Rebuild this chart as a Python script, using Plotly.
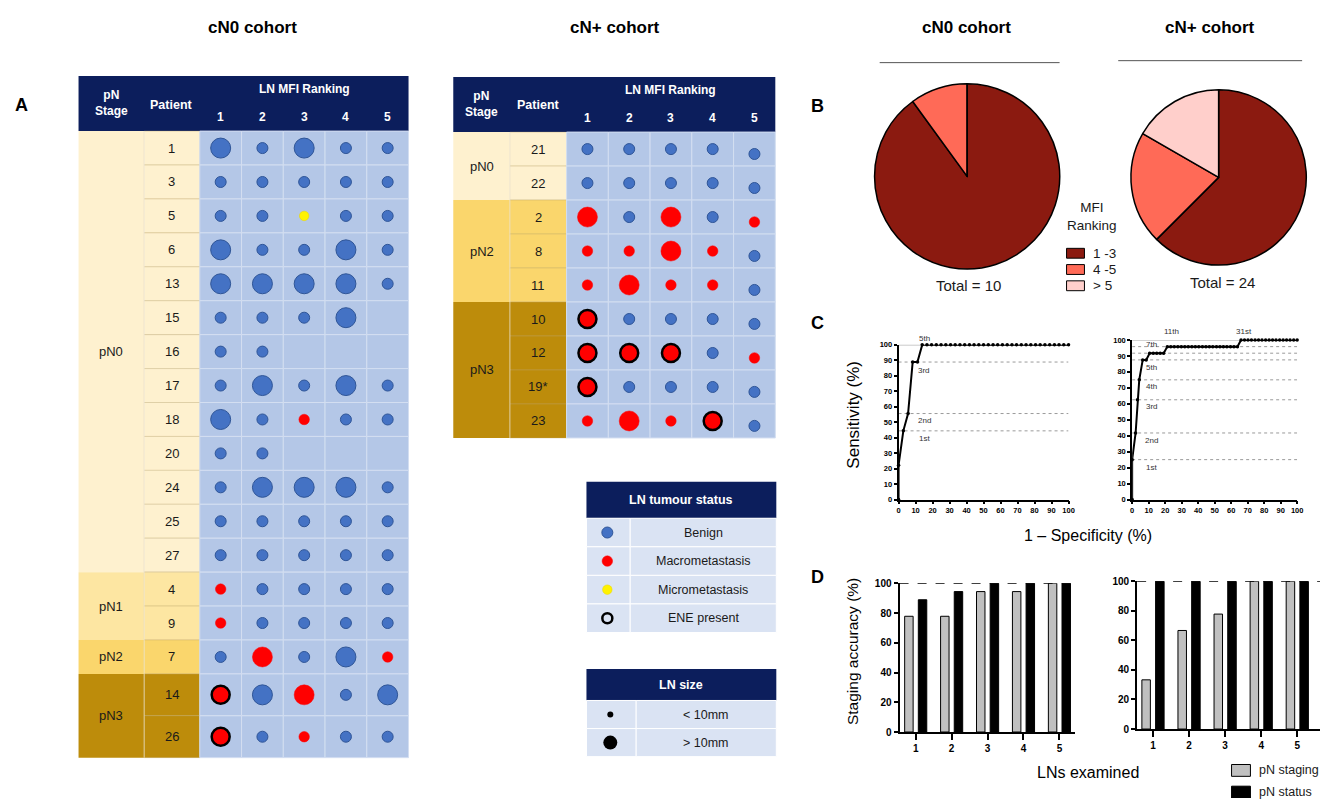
import plotly.graph_objects as go

W, H = 1328, 804
FONT = "Liberation Sans, Arial, sans-serif"

# ------------------------------------------------------------------ data
MFI_RANKS = ["1", "2", "3", "4", "5"]

# Node codes per LN MFI rank: b/B benign (<10mm / >10mm), m/M macrometastasis,
# y micrometastasis, E macrometastasis with ENE (large), "-" no node
cn0_stage_groups = [("pN0", 13), ("pN1", 2), ("pN2", 1), ("pN3", 2)]
cn0_patients = ["1", "3", "5", "6", "13", "15", "16", "17", "18", "20",
                "24", "25", "27", "4", "9", "7", "14", "26"]
cn0_nodes = [
    "B b B b b",
    "b b b b b",
    "b b y b b",
    "B b b B b",
    "B B B B b",
    "b b b B -",
    "b b - - -",
    "b B b B b",
    "B b m b b",
    "b b - - -",
    "b B B B b",
    "b b b b b",
    "b b b b b",
    "m b b b b",
    "m b b b b",
    "b M b B m",
    "E B M b B",
    "E b m b b",
]

cnp_stage_groups = [("pN0", 2), ("pN2", 3), ("pN3", 4)]
cnp_patients = ["21", "22", "2", "8", "11", "10", "12", "19*", "23"]
cnp_nodes = [
    "b b b b b",
    "b b b b b",
    "M b M b m",
    "m m M m b",
    "m M m m b",
    "E b b b b",
    "E E E b m",
    "E b b b b",
    "m M m E b",
]

status_legend = [("b", "Benign"), ("m", "Macrometastasis"),
                 ("y", "Micrometastasis"), ("ring", "ENE present")]
size_legend = [("small", "< 10mm"), ("large", "> 10mm")]

# Pie: position of the positive node within the MFI ranking
mfi_groups = ["1 -3", "4 -5", "> 5"]
cn0_mfi_counts = [9, 1, 0]
cnp_mfi_counts = [15, 5, 4]

# ROC curves (1 - specificity, sensitivity)
cn0_roc_fpr = [0, 0, 2.8, 5.6, 8.3, 11.1, 13.9, 16.7, 19.4, 22.2, 25.0, 27.8,
               30.6, 33.3, 36.1, 38.9, 41.7, 44.4, 47.2, 50.0, 52.8, 55.6,
               58.3, 61.1, 63.9, 66.7, 69.4, 72.2, 75.0, 77.8, 80.6, 83.3,
               86.1, 88.9, 91.7, 94.4, 97.2, 100]
cn0_roc_tpr = [0, 22.2, 44.4, 55.6, 88.9, 88.9, 100, 100, 100, 100, 100, 100,
               100, 100, 100, 100, 100, 100, 100, 100, 100, 100,
               100, 100, 100, 100, 100, 100, 100, 100, 100, 100,
               100, 100, 100, 100, 100, 100]
cn0_roc_levels = [44.4, 55.6, 88.9, 100]
cn0_roc_labels = [("1st", 15, 39.5), ("2nd", 15, 51), ("3rd", 15, 83.5),
                  ("5th", 15, 104)]

cnp_roc_fpr = [0, 0, 2.1, 3.2, 4.3, 6.4, 8.5, 10.6, 12.8, 14.9, 17.0, 19.1,
               21.3, 23.4, 25.5, 27.7, 29.8, 31.9, 34.0, 36.2, 38.3, 40.4,
               42.6, 44.7, 46.8, 48.9, 51.1, 53.2, 55.3, 57.4, 59.6, 61.7,
               63.8, 66.0, 68.1, 70.2, 72.3, 74.5, 76.6, 78.7, 80.9, 83.0,
               85.1, 87.2, 89.4, 91.5, 93.6, 95.7, 97.9, 100]
cnp_roc_tpr = [0, 25, 41.7, 62.5, 75, 87.5, 87.5, 91.7, 91.7, 91.7, 91.7, 91.7,
               95.8, 95.8, 95.8, 95.8, 95.8, 95.8, 95.8, 95.8, 95.8, 95.8,
               95.8, 95.8, 95.8, 95.8, 95.8, 95.8, 95.8, 95.8, 95.8, 95.8,
               95.8, 100, 100, 100, 100, 100, 100, 100, 100, 100,
               100, 100, 100, 100, 100, 100, 100, 100]
cnp_roc_levels = [25, 41.7, 62.5, 75, 87.5, 91.7, 95.8, 100]
cnp_roc_labels = [("1st", 12, 20), ("2nd", 12, 37), ("3rd", 12, 58),
                  ("4th", 12, 71), ("5th", 12, 83), ("7th", 12, 97),
                  ("11th", 24, 105), ("31st", 68, 105)]

# Staging accuracy vs number of LNs examined
lns_examined = ["1", "2", "3", "4", "5"]
cn0_pn_staging = [77.8, 77.8, 94.4, 94.4, 100]
cn0_pn_status = [88.9, 94.4, 100, 100, 100]
cnp_pn_staging = [33.3, 66.7, 77.8, 100, 100]
cnp_pn_status = [100, 100, 100, 100, 100]

# ------------------------------------------------------------------ styles
NAVY = "#0C1E5C"
CELL = "#B4C7E7"
CELL_LINE = "#D3DEF1"
LEG_CELL = "#DAE3F3"
BLUE = "#4472C4"
BLUE_EDGE = "#2F5597"
RED = "#FF0000"
YELLOW = "#FFF200"
STAGE_COLOR = {"pN0": "#FEF1CF", "pN1": "#FDE6A2", "pN2": "#FAD66C", "pN3": "#BD8C0B"}
PIE_COLORS = ["#8B1A10", "#FF6A57", "#FFCFCB"]

NODE_STYLE = {
    "b": dict(size=11, color=BLUE, lc=BLUE_EDGE, lw=1),
    "B": dict(size=20, color=BLUE, lc=BLUE_EDGE, lw=1),
    "m": dict(size=10.5, color=RED, lc=RED, lw=0.5),
    "M": dict(size=20, color=RED, lc=RED, lw=0.5),
    "y": dict(size=9.5, color=YELLOW, lc="#E8D400", lw=0.5),
    "E": dict(size=18, color=RED, lc="black", lw=2.5),
    "ring": dict(size=10, color="rgba(0,0,0,0)", lc="black", lw=2.5),
    "small": dict(size=6, color="black", lc="black", lw=0),
    "large": dict(size=14, color="black", lc="black", lw=0),
}

fig = go.Figure()
shapes = []
annotations = []


def rect(x0, y0, x1, y1, fill, line_color=None, line_width=0):
    shapes.append(dict(type="rect", xref="x", yref="y", x0=x0, y0=y0, x1=x1, y1=y1,
                       fillcolor=fill, layer="below",
                       line=dict(color=line_color or fill, width=line_width)))


def text(x, y, s, size=12, color="#1A1A1A", bold=False, xref="x", yref="y",
         xanchor="center", angle=0):
    annotations.append(dict(x=x, y=y, xref=xref, yref=yref, text=s, showarrow=False,
                            xanchor=xanchor, yanchor="middle", textangle=angle,
                            font=dict(family=FONT, size=size, color=color,
                                      weight="bold" if bold else "normal")))


def add_markers(points, axis=("x", "y")):
    xs, ys, sz, col, lc, lw = [], [], [], [], [], []
    for x, y, code in points:
        st = NODE_STYLE[code]
        xs.append(x)
        ys.append(y)
        sz.append(st["size"])
        col.append(st["color"])
        lc.append(st["lc"])
        lw.append(st["lw"])
    fig.add_trace(go.Scatter(x=xs, y=ys, mode="markers", xaxis=axis[0], yaxis=axis[1],
                             marker=dict(size=sz, color=col, opacity=1,
                                         line=dict(color=lc, width=lw)),
                             hoverinfo="skip", showlegend=False, cliponaxis=False))


def draw_table(x0, y0, head_h, stage_w, pat_w, col_w, row_h, groups, patients, nodes,
               col_dy):
    xs = x0 + stage_w
    xm = xs + pat_w
    x1 = xm + len(MFI_RANKS) * col_w
    yb = y0 + head_h
    rect(x0, y0, x1, yb, NAVY)
    text((x0 + xs) / 2, y0 + head_h / 2 - 1, "pN<br>Stage", bold=True, color="white")
    text((xs + xm) / 2, y0 + head_h / 2 + 1, "Patient", size=12.5, bold=True, color="white")
    text((xm + x1) / 2, y0 + 13, "LN MFI Ranking", bold=True, color="white")
    for c, lab in enumerate(MFI_RANKS):
        text(xm + (c + 0.5) * col_w, y0 + 42, lab, bold=True, color="white")

    tops = [yb]
    for h in row_h:
        tops.append(tops[-1] + h)

    r = 0
    for stage, n in groups:
        rect(x0, tops[r], xs, tops[r + n], STAGE_COLOR[stage])
        text((x0 + xs) / 2, (tops[r] + tops[r + n]) / 2, stage, size=13)
        for k in range(n):
            rect(xs, tops[r + k], xm, tops[r + k + 1], STAGE_COLOR[stage],
                 line_color="rgba(190,165,110,0.35)", line_width=1)
            text((xs + xm) / 2, (tops[r + k] + tops[r + k + 1]) / 2, patients[r + k], size=13)
        r += n
    shapes.append(dict(type="line", xref="x", yref="y", x0=xs, x1=xs, y0=yb, y1=tops[-1],
                       line=dict(color="rgba(255,255,255,0.5)", width=1), layer="below"))

    for i in range(len(patients)):
        for c in range(len(MFI_RANKS)):
            rect(xm + c * col_w, tops[i], xm + (c + 1) * col_w, tops[i + 1], CELL,
                 line_color=CELL_LINE, line_width=1)

    pts = []
    for i, row in enumerate(nodes):
        for c, code in enumerate(row.split()):
            if code == "-":
                continue
            pts.append((xm + (c + 0.5) * col_w, (tops[i] + tops[i + 1]) / 2 + col_dy[c], code))
    add_markers(pts)


# cN0 table
draw_table(77, 71, 56, 66, 56, 42, [34.44] * 16 + [42.5] * 2,
           cn0_stage_groups, cn0_patients, cn0_nodes, [0, 0, 0, 0, 0])
# cN+ table
draw_table(454, 72, 56, 57, 57, 42, [34.5] * 9,
           cnp_stage_groups, cnp_patients, cnp_nodes, [0, 0, 0, 0, 5])


def draw_legend_table(x0, x1, xsplit, y0, head_h, row_h, title, rows):
    rect(x0, y0, x1, y0 + head_h, NAVY)
    text((x0 + x1) / 2, y0 + head_h / 2, title, size=12.5, bold=True, color="white")
    pts = []
    for i, (code, lab) in enumerate(rows):
        ya = y0 + head_h + i * row_h
        rect(x0, ya, xsplit, ya + row_h, LEG_CELL, line_color="white", line_width=1)
        rect(xsplit, ya, x1, ya + row_h, LEG_CELL, line_color="white", line_width=1)
        text((xsplit + x1) / 2, ya + row_h / 2, lab, size=12.5)
        pts.append(((x0 + xsplit) / 2 - 1, ya + row_h / 2, code))
    add_markers(pts)


draw_legend_table(588, 779, 632, 483, 37, 29, "LN tumour status", status_legend)
draw_legend_table(588, 779, 638, 673, 32, 28.5, "LN size", size_legend)

# ------------------------------------------------------------------ headings
text(252, 22, "cN0 cohort", size=17, bold=True, color="black")
text(617, 22, "cN+ cohort", size=17, bold=True, color="black")
text(970, 22, "cN0 cohort", size=17, bold=True, color="black")
text(1215, 22, "cN+ cohort", size=17, bold=True, color="black")
for xa, xb, yl in [(883, 1064, 57.5), (1123, 1308, 55.5)]:
    shapes.append(dict(type="line", xref="x", yref="y", x0=xa, x1=xb, y0=yl, y1=yl,
                       line=dict(color="#555555", width=1)))
for lab, x, y in [("A", 20, 100), ("B", 820, 102), ("C", 820, 322), ("D", 820, 580)]:
    text(x, y, lab, size=18, bold=True, color="black")

# ------------------------------------------------------------------ pies
for counts, (xa, xb, ya, yb) in [(cn0_mfi_counts, (877, 1065, 79, 267)),
                                 (cnp_mfi_counts, (1135, 1313, 85, 263))]:
    fig.add_trace(go.Pie(values=counts, labels=mfi_groups, sort=False,
                         direction="clockwise", rotation=0, textinfo="none",
                         marker=dict(colors=PIE_COLORS, line=dict(color="black", width=1.5)),
                         domain=dict(x=[xa / W, xb / W], y=[1 - yb / H, 1 - ya / H]),
                         showlegend=False, hoverinfo="skip"))
text(972, 284, "Total = 10", size=15)
text(1228, 281, "Total = 24", size=15)
text(1097, 214, "MFI<br>Ranking", size=13.5)
for i, (lab, col) in enumerate(zip(mfi_groups, PIE_COLORS)):
    yc = 251 + i * 16.5
    rect(1071, yc - 5, 1089, yc + 5, col, line_color="black", line_width=1)
    text(1096, yc, lab, size=13.5, xanchor="left")


# ------------------------------------------------------------------ ROC curves
def dom_x(a, b):
    return [a / W, b / W]


def dom_y(top, bottom):
    return [1 - bottom / H, 1 - top / H]


tick_small = dict(family=FONT, size=7.5, color="black", weight="bold")
roc_axis = dict(range=[0, 100], tickvals=list(range(0, 101, 10)), ticks="outside",
                ticklen=3, tickwidth=1.5, tickcolor="black", showline=True,
                linecolor="black", linewidth=1.8, showgrid=False, zeroline=False,
                tickfont=tick_small, fixedrange=True)

for n, (fpr, tpr, levels, labels) in enumerate(
        [(cn0_roc_fpr, cn0_roc_tpr, cn0_roc_levels, cn0_roc_labels),
         (cnp_roc_fpr, cnp_roc_tpr, cnp_roc_levels, cnp_roc_labels)]):
    ax = str(n + 2)
    for lv in levels:
        shapes.append(dict(type="line", xref="x" + ax, yref="y" + ax, x0=0, x1=100,
                           y0=lv, y1=lv, layer="below",
                           line=dict(color="#9A9A9A", width=1,
                                     dash="solid" if lv == 100 else "dot")))
    fig.add_trace(go.Scatter(x=fpr, y=tpr, mode="lines+markers", xaxis="x" + ax,
                             yaxis="y" + ax, line=dict(color="black", width=2),
                             marker=dict(size=3.5, color="black"),
                             hoverinfo="skip", showlegend=False, cliponaxis=False))
    # rank labels; axis ranges are 0-100 so domain fractions are value / 100
    for lab, x, y in labels:
        text(x / 100, y / 100, lab, size=8, color="#333333",
             xref="x" + ax + " domain", yref="y" + ax + " domain")

text(857, 415, "Sensitivity (%)", size=17, color="black", angle=-90)
text(1093, 538, "1 \u2013 Specificity (%)", size=16, color="black")

# ------------------------------------------------------------------ staging accuracy bars
for n, (stg, sts) in enumerate([(cn0_pn_staging, cn0_pn_status),
                                (cnp_pn_staging, cnp_pn_status)]):
    ax = str(n + 4)
    fig.add_trace(go.Bar(x=lns_examined, y=stg, name="pN staging", xaxis="x" + ax,
                         yaxis="y" + ax,
                         marker=dict(color="#C0C0C0", line=dict(color="black", width=1)),
                         hoverinfo="skip", showlegend=False))
    fig.add_trace(go.Bar(x=lns_examined, y=sts, name="pN status", xaxis="x" + ax,
                         yaxis="y" + ax,
                         marker=dict(color="black", line=dict(color="black", width=1)),
                         hoverinfo="skip", showlegend=False))
    shapes.append(dict(type="line", xref="x" + ax + " domain", yref="y" + ax,
                       x0=0, x1=1, y0=100, y1=100,
                       line=dict(color="black", width=1.5, dash="dash")))

text(855, 655, "Staging accuracy (%)", size=15.5, color="black", angle=-90)
text(1093, 778, "LNs examined", size=16, color="black")
rect(1237, 770, 1256, 782, "#C0C0C0", line_color="black", line_width=1)
text(1263, 776, "pN staging", size=12.5, xanchor="left")
rect(1237, 792, 1256, 804, "black", line_color="black", line_width=1)
text(1263, 798, "pN status", size=12.5, xanchor="left")

bar_y = dict(range=[0, 100], tickvals=[0, 20, 40, 60, 80, 100], ticks="outside",
             ticklen=4, tickwidth=1.5, tickcolor="black", showline=True,
             linecolor="black", linewidth=2, showgrid=False, zeroline=False,
             tickfont=dict(family=FONT, size=10, color="black", weight="bold"),
             fixedrange=True)
bar_x = dict(type="category", ticks="outside", ticklen=6, tickwidth=1.5,
             tickcolor="black", showline=True, linecolor="black", linewidth=2,
             showgrid=False, zeroline=False,
             tickfont=dict(family=FONT, size=10, color="black", weight="bold"),
             fixedrange=True)

canvas = dict(range=[0, W], domain=[0, 1], visible=False, fixedrange=True)
fig.update_layout(
    width=W, height=H, margin=dict(l=0, r=0, t=0, b=0),
    paper_bgcolor="white", plot_bgcolor="rgba(0,0,0,0)",
    showlegend=False, barmode="group", bargap=0.24, bargroupgap=0.38,
    xaxis=canvas,
    yaxis=dict(range=[H, 0], domain=[0, 1], visible=False, fixedrange=True),
    xaxis2=dict(roc_axis, domain=dom_x(902, 1073), anchor="y2"),
    yaxis2=dict(roc_axis, domain=dom_y(344, 501), anchor="x2"),
    xaxis3=dict(roc_axis, domain=dom_x(1137, 1303), anchor="y3"),
    yaxis3=dict(roc_axis, domain=dom_y(339, 501), anchor="x3"),
    xaxis4=dict(bar_x, domain=dom_x(903, 1079), anchor="y4", range=[-0.45, 4.42]),
    yaxis4=dict(bar_y, domain=dom_y(586, 737), anchor="x4"),
    xaxis5=dict(bar_x, domain=dom_x(1142, 1326), anchor="y5", range=[-0.44, 4.63]),
    yaxis5=dict(bar_y, domain=dom_y(584, 734), anchor="x5"),
    shapes=shapes, annotations=annotations,
)

fig.write_html("out.html")
